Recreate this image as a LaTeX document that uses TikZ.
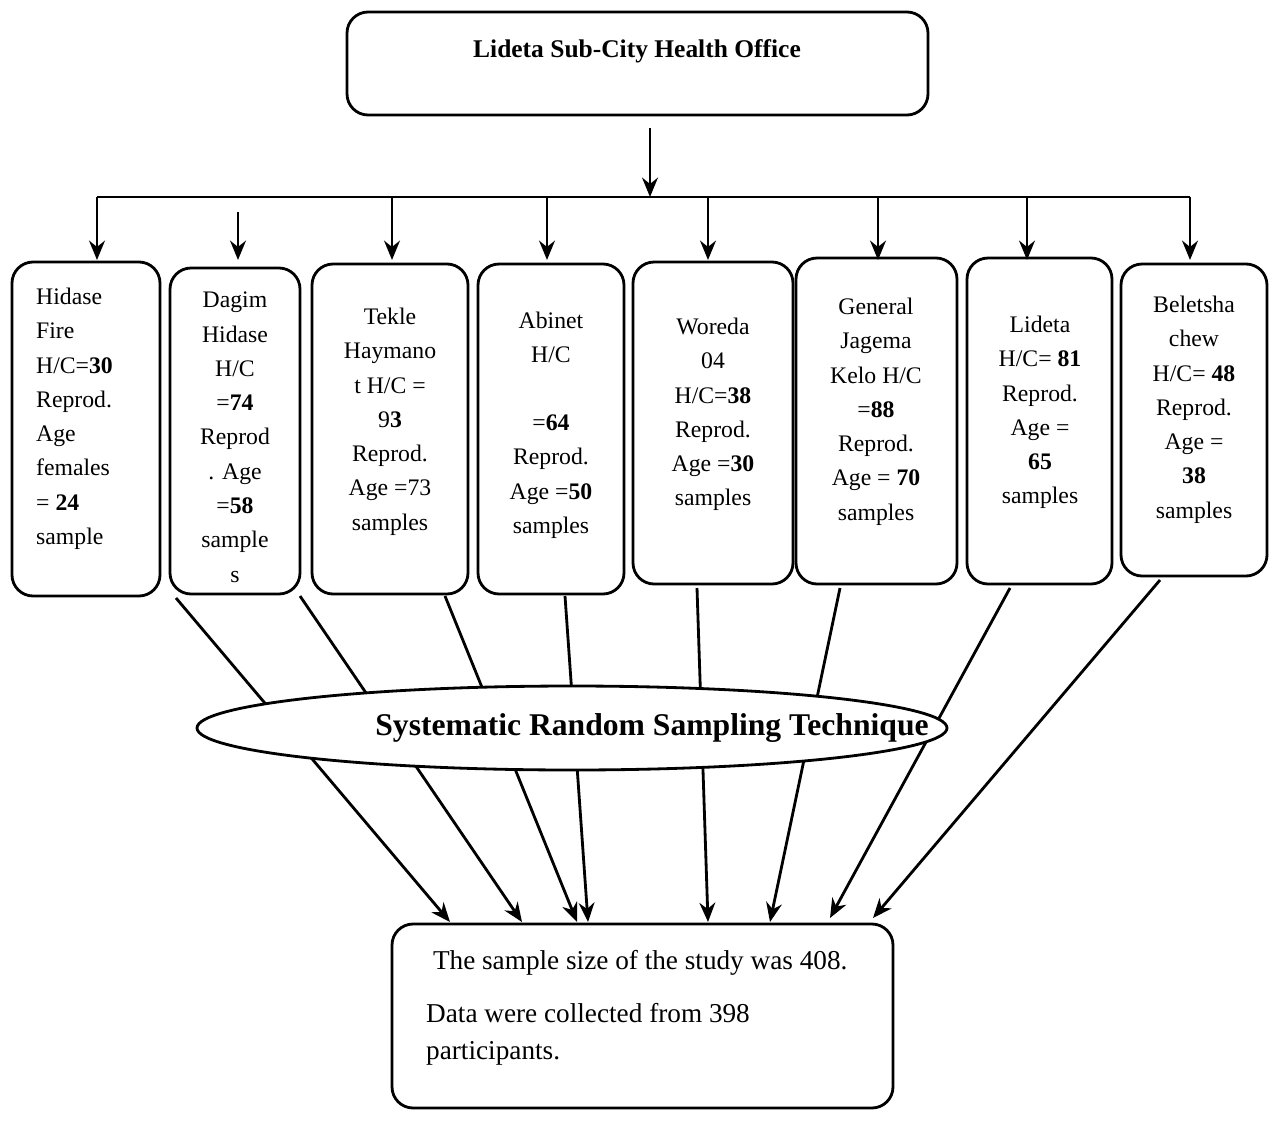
\documentclass[tikz,border=0pt]{standalone}
\usepackage{fontspec}
\setmainfont{Liberation Serif}
\usetikzlibrary{arrows.meta}
\begin{document}
\begin{tikzpicture}[x=0.02cm,y=-0.02cm,
 box/.style={draw,line width=1.6pt,rounded corners=12pt},
 txt/.style={font=\fontsize{13.5}{19.5}\selectfont,align=center},
 arr/.style={line width=1.6pt,-{Stealth[length=11pt,width=9pt]}},
 ln/.style={line width=1.6pt}]
\useasboundingbox (0,0) rectangle (1280,1122);
\draw[box] (347,12) rectangle (928,115);
\node[font=\fontsize{14.5}{17}\selectfont\bfseries] (top) at (637,51) {Lideta Sub-City Health Office};
\coordinate (a0) at (650,128);
\coordinate (bus) at (650,197);
\draw[arr] (a0) -- (bus);
\coordinate (bl) at (97,197); \coordinate (br) at (1190,197);
\draw[ln] (bl) -- (br);
\foreach \x/\ys in {97/197,238/212,392/197,547/197,708/197,878/197,1027/197,1190/197}{
 \draw[arr] (\x,\ys) -- (\x,260);}
\draw[box] (12,262) rectangle (160,596);
\draw[box] (170,268) rectangle (300,594);
\draw[box] (312,264) rectangle (468,594);
\draw[box] (478,264) rectangle (624,594);
\draw[box] (633,262) rectangle (793,584);
\draw[box] (796,258) rectangle (957,584);
\draw[box] (967,258) rectangle (1112,584);
\draw[box] (1121,264) rectangle (1267,576);
\node[txt,align=left,anchor=north west] (n1) at (30,282) {Hidase\\Fire\\H/C=\textbf{30}\\Reprod.\\Age\\females\\= \textbf{24}\\sample};
\node[txt,anchor=north] (n2) at (235,286) {Dagim\\Hidase\\H/C\\=\textbf{74}\\Reprod\\. Age\\=\textbf{58}\\sample\\s};
\node[txt,anchor=north] (n3) at (390,302) {Tekle\\Haymano\\t H/C =\\9\textbf{3}\\Reprod.\\Age =73\\samples};
\node[txt,anchor=north] (n4) at (551,306) {Abinet\\H/C\\[19pt]=\textbf{64}\\Reprod.\\Age =\textbf{50}\\samples};
\node[txt,anchor=north] (n5) at (713,312) {Woreda\\04\\H/C=\textbf{38}\\Reprod.\\Age =\textbf{30}\\samples};
\node[txt,anchor=north] (n6) at (876,292) {General\\Jagema\\Kelo H/C\\=\textbf{88}\\Reprod.\\Age = \textbf{70}\\samples};
\node[txt,anchor=north] (n7) at (1040,310) {Lideta\\H/C= \textbf{81}\\Reprod.\\Age =\\\textbf{65}\\samples};
\node[txt,anchor=north] (n8) at (1194,290) {Beletsha\\chew\\H/C= \textbf{48}\\Reprod.\\Age =\\\textbf{38}\\samples};
\draw[box] (392,924) rectangle (893,1108);
\node[font=\fontsize{15.5}{20.5}\selectfont,align=left,anchor=north west] (res) at (420,944) {\ The sample size of the study was 408.\\[10pt] Data were collected from 398\\participants.};
\foreach \a/\b/\c/\d in {176/598/450/922,300/596/522/922,445/596/577/922,565/596/588/922,697/588/708/922,840/588/770/922,1010/588/830/918,1160/580/873/918}{
 \draw[arr] (\a,\b) -- (\c,\d);}
\draw[ln,fill=white] (572,728) ellipse [x radius=375,y radius=42];
\node[font=\fontsize{18}{21}\selectfont\bfseries] (srs) at (652,728) {Systematic Random Sampling Technique};
\end{tikzpicture}
\end{document}
